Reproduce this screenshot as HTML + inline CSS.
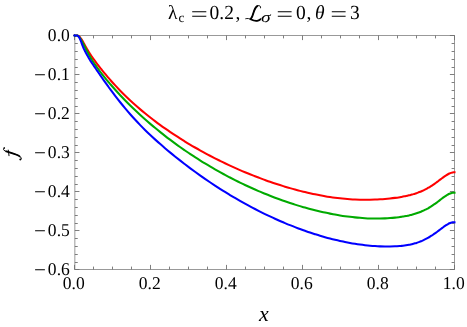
<!DOCTYPE html>
<html><head><meta charset="utf-8"><title>plot</title>
<style>html,body{margin:0;padding:0;background:#fff}svg{display:block;will-change:transform}.t{font-family:"Liberation Serif",serif;text-rendering:geometricPrecision}</style></head>
<body><svg width="467" height="327" viewBox="0 0 467 327">
<rect width="467" height="327" fill="#fff"/>
<path d="M74.35 35.5H455.0M74.35 269.5H455.0M454.5 35.5V269.5M74.85 35.5V269.5" fill="none" stroke="#999" stroke-width="1"/>
<path d="M74.50 269.5v-4.6M74.50 35.5v4.6M93.50 269.5v-2.9M93.50 35.5v2.9M112.50 269.5v-2.9M112.50 35.5v2.9M131.50 269.5v-2.9M131.50 35.5v2.9M150.50 269.5v-4.6M150.50 35.5v4.6M169.50 269.5v-2.9M169.50 35.5v2.9M188.50 269.5v-2.9M188.50 35.5v2.9M207.50 269.5v-2.9M207.50 35.5v2.9M226.50 269.5v-4.6M226.50 35.5v4.6M245.50 269.5v-2.9M245.50 35.5v2.9M264.50 269.5v-2.9M264.50 35.5v2.9M283.50 269.5v-2.9M283.50 35.5v2.9M302.50 269.5v-4.6M302.50 35.5v4.6M321.50 269.5v-2.9M321.50 35.5v2.9M340.50 269.5v-2.9M340.50 35.5v2.9M359.50 269.5v-2.9M359.50 35.5v2.9M378.50 269.5v-4.6M378.50 35.5v4.6M397.50 269.5v-2.9M397.50 35.5v2.9M416.50 269.5v-2.9M416.50 35.5v2.9M435.50 269.5v-2.9M435.50 35.5v2.9M454.50 269.5v-4.6M454.50 35.5v4.6M74.85 35.50h4.6M454.5 35.50h-4.6M74.85 43.50h2.9M454.5 43.50h-2.9M74.85 51.50h2.9M454.5 51.50h-2.9M74.85 59.50h2.9M454.5 59.50h-2.9M74.85 67.50h2.9M454.5 67.50h-2.9M74.85 74.50h4.6M454.5 74.50h-4.6M74.85 82.50h2.9M454.5 82.50h-2.9M74.85 90.50h2.9M454.5 90.50h-2.9M74.85 98.50h2.9M454.5 98.50h-2.9M74.85 106.50h2.9M454.5 106.50h-2.9M74.85 113.50h4.6M454.5 113.50h-4.6M74.85 121.50h2.9M454.5 121.50h-2.9M74.85 129.50h2.9M454.5 129.50h-2.9M74.85 137.50h2.9M454.5 137.50h-2.9M74.85 145.50h2.9M454.5 145.50h-2.9M74.85 152.50h4.6M454.5 152.50h-4.6M74.85 160.50h2.9M454.5 160.50h-2.9M74.85 168.50h2.9M454.5 168.50h-2.9M74.85 176.50h2.9M454.5 176.50h-2.9M74.85 184.50h2.9M454.5 184.50h-2.9M74.85 191.50h4.6M454.5 191.50h-4.6M74.85 199.50h2.9M454.5 199.50h-2.9M74.85 207.50h2.9M454.5 207.50h-2.9M74.85 215.50h2.9M454.5 215.50h-2.9M74.85 223.50h2.9M454.5 223.50h-2.9M74.85 230.50h4.6M454.5 230.50h-4.6M74.85 238.50h2.9M454.5 238.50h-2.9M74.85 246.50h2.9M454.5 246.50h-2.9M74.85 254.50h2.9M454.5 254.50h-2.9M74.85 262.50h2.9M454.5 262.50h-2.9M74.85 269.50h4.6M454.5 269.50h-4.6" stroke="#6f6f6f" stroke-width="0.9" fill="none"/>
<path d="M74.50 35.50C74.58 35.55 74.83 35.77 75.00 35.79C75.17 35.80 75.33 35.64 75.50 35.59C75.67 35.54 75.83 35.52 76.00 35.50C76.17 35.48 76.33 35.50 76.50 35.50C76.67 35.50 76.83 35.49 77.00 35.50C77.17 35.51 77.33 35.49 77.50 35.53C77.67 35.57 77.83 35.65 78.00 35.73C78.17 35.80 78.33 35.89 78.50 36.00C78.67 36.10 78.83 36.22 79.00 36.35C79.17 36.48 79.33 36.62 79.50 36.77C79.67 36.93 79.83 37.09 80.00 37.27C80.17 37.45 80.33 37.64 80.50 37.85C80.67 38.05 80.83 38.27 81.00 38.50C81.17 38.73 81.33 38.97 81.50 39.22C81.67 39.47 81.83 39.73 82.00 40.01C82.17 40.28 82.33 40.57 82.50 40.86C82.67 41.15 82.83 41.45 83.00 41.75C83.17 42.05 83.33 42.36 83.50 42.67C83.67 42.97 83.83 43.29 84.00 43.60C84.17 43.91 84.33 44.22 84.50 44.53C84.67 44.84 84.83 45.14 85.00 45.45C85.17 45.75 85.33 46.06 85.50 46.36C85.67 46.65 85.83 46.95 86.00 47.24C86.17 47.54 86.33 47.82 86.50 48.11C86.67 48.40 86.83 48.68 87.00 48.97C87.17 49.25 87.33 49.53 87.50 49.80C87.67 50.08 87.83 50.36 88.00 50.63C88.17 50.90 88.33 51.17 88.50 51.44C88.67 51.71 88.83 51.98 89.00 52.24C89.17 52.51 89.33 52.77 89.50 53.04C89.67 53.30 89.83 53.56 90.00 53.82C90.17 54.08 90.33 54.34 90.50 54.59C90.67 54.85 90.83 55.10 91.00 55.36C91.17 55.61 91.33 55.86 91.50 56.11C91.67 56.36 91.58 56.25 92.00 56.85C92.42 57.45 93.33 58.79 94.00 59.72C94.67 60.65 95.33 61.56 96.00 62.44C96.67 63.32 97.33 64.15 98.00 65.00C98.67 65.85 99.33 66.68 100.00 67.52C100.67 68.36 101.33 69.21 102.00 70.04C102.67 70.87 103.33 71.70 104.00 72.52C104.67 73.33 105.33 74.13 106.00 74.93C106.67 75.72 107.33 76.51 108.00 77.29C108.67 78.07 108.83 78.29 110.00 79.60C111.17 80.91 113.33 83.35 115.00 85.16C116.67 86.97 118.33 88.72 120.00 90.44C121.67 92.15 123.33 93.82 125.00 95.45C126.67 97.08 128.33 98.67 130.00 100.22C131.67 101.78 133.33 103.29 135.00 104.78C136.67 106.26 138.33 107.71 140.00 109.13C141.67 110.55 143.33 111.94 145.00 113.30C146.67 114.66 148.33 115.99 150.00 117.30C151.67 118.60 153.33 119.88 155.00 121.14C156.67 122.40 158.33 123.63 160.00 124.84C161.67 126.05 163.33 127.24 165.00 128.41C166.67 129.58 168.33 130.73 170.00 131.86C171.67 132.99 173.33 134.10 175.00 135.19C176.67 136.28 178.33 137.36 180.00 138.42C181.67 139.47 183.33 140.51 185.00 141.54C186.67 142.56 188.33 143.57 190.00 144.56C191.67 145.56 193.33 146.53 195.00 147.49C196.67 148.45 198.33 149.40 200.00 150.33C201.67 151.26 203.33 152.18 205.00 153.08C206.67 153.98 208.33 154.87 210.00 155.74C211.67 156.62 213.33 157.48 215.00 158.33C216.67 159.17 218.33 160.01 220.00 160.83C221.67 161.65 223.33 162.46 225.00 163.25C226.67 164.05 228.33 164.83 230.00 165.60C231.67 166.37 233.33 167.13 235.00 167.87C236.67 168.62 238.33 169.35 240.00 170.07C241.67 170.80 243.33 171.50 245.00 172.20C246.67 172.90 248.33 173.58 250.00 174.26C251.67 174.93 253.33 175.59 255.00 176.24C256.67 176.89 258.33 177.53 260.00 178.16C261.67 178.78 263.33 179.40 265.00 180.00C266.67 180.60 268.33 181.20 270.00 181.77C271.67 182.35 273.33 182.92 275.00 183.48C276.67 184.03 278.33 184.57 280.00 185.10C281.67 185.63 283.33 186.15 285.00 186.66C286.67 187.16 288.33 187.66 290.00 188.14C291.67 188.62 293.33 189.09 295.00 189.54C296.67 190.00 298.33 190.44 300.00 190.87C301.67 191.29 303.33 191.71 305.00 192.11C306.67 192.51 308.33 192.90 310.00 193.27C311.67 193.64 313.33 194.00 315.00 194.35C316.67 194.69 318.33 195.02 320.00 195.33C321.67 195.64 323.33 195.94 325.00 196.22C326.67 196.51 328.33 196.77 330.00 197.02C331.67 197.27 333.33 197.51 335.00 197.72C336.67 197.94 338.33 198.14 340.00 198.32C341.67 198.51 343.33 198.67 345.00 198.82C346.67 198.97 348.33 199.10 350.00 199.22C351.67 199.33 353.33 199.43 355.00 199.51C356.67 199.59 358.33 199.65 360.00 199.69C361.67 199.73 363.33 199.76 365.00 199.76C366.67 199.77 368.33 199.76 370.00 199.73C371.67 199.70 373.33 199.65 375.00 199.58C376.67 199.52 378.33 199.43 380.00 199.33C381.67 199.22 383.33 199.10 385.00 198.96C386.67 198.82 388.33 198.66 390.00 198.48C391.67 198.30 393.33 198.10 395.00 197.88C396.67 197.66 398.92 197.31 400.00 197.14C401.08 196.97 401.00 196.97 401.50 196.89C402.00 196.80 402.50 196.71 403.00 196.61C403.50 196.52 404.00 196.43 404.50 196.33C405.00 196.23 405.50 196.12 406.00 196.02C406.50 195.91 407.00 195.80 407.50 195.69C408.00 195.57 408.50 195.46 409.00 195.33C409.50 195.21 410.00 195.09 410.50 194.96C411.00 194.83 411.50 194.69 412.00 194.55C412.50 194.41 413.00 194.27 413.50 194.12C414.00 193.97 414.50 193.82 415.00 193.66C415.50 193.50 416.00 193.33 416.50 193.16C417.00 192.99 417.50 192.82 418.00 192.63C418.50 192.45 419.00 192.26 419.50 192.07C420.00 191.87 420.50 191.67 421.00 191.46C421.50 191.25 422.00 191.03 422.50 190.81C423.00 190.59 423.50 190.35 424.00 190.11C424.50 189.87 425.00 189.63 425.50 189.37C426.00 189.11 426.50 188.85 427.00 188.58C427.50 188.30 428.00 188.02 428.50 187.73C429.00 187.44 429.50 187.14 430.00 186.83C430.50 186.52 431.00 186.20 431.50 185.88C432.00 185.55 432.50 185.22 433.00 184.88C433.50 184.53 434.00 184.18 434.50 183.83C435.00 183.47 435.50 183.11 436.00 182.75C436.50 182.38 437.00 182.01 437.50 181.63C438.00 181.26 438.50 180.88 439.00 180.50C439.50 180.13 440.00 179.74 440.50 179.37C441.00 178.99 441.50 178.61 442.00 178.24C442.50 177.87 443.00 177.50 443.50 177.14C444.00 176.79 444.50 176.43 445.00 176.10C445.50 175.76 446.00 175.43 446.50 175.12C447.00 174.81 447.50 174.52 448.00 174.24C448.50 173.97 449.00 173.72 449.50 173.49C450.00 173.27 450.50 173.07 451.00 172.90C451.50 172.74 452.00 172.60 452.50 172.50C453.00 172.41 453.67 172.36 454.00 172.33C454.33 172.30 454.42 172.33 454.50 172.33" stroke="#ff0000" stroke-width="2.05" fill="none" stroke-linecap="square" stroke-linejoin="round"/>
<path d="M74.50 35.50C74.58 35.59 74.83 36.00 75.00 36.03C75.17 36.06 75.33 35.75 75.50 35.66C75.67 35.57 75.83 35.53 76.00 35.50C76.17 35.47 76.33 35.50 76.50 35.50C76.67 35.50 76.83 35.50 77.00 35.50C77.17 35.50 77.33 35.46 77.50 35.50C77.67 35.54 77.83 35.63 78.00 35.74C78.17 35.85 78.33 36.01 78.50 36.18C78.67 36.34 78.83 36.53 79.00 36.72C79.17 36.92 79.33 37.13 79.50 37.35C79.67 37.58 79.83 37.81 80.00 38.06C80.17 38.30 80.33 38.56 80.50 38.83C80.67 39.09 80.83 39.36 81.00 39.65C81.17 39.93 81.33 40.22 81.50 40.51C81.67 40.81 81.83 41.11 82.00 41.42C82.17 41.72 82.33 42.03 82.50 42.35C82.67 42.66 82.83 42.98 83.00 43.30C83.17 43.62 83.33 43.94 83.50 44.27C83.67 44.59 83.83 44.92 84.00 45.25C84.17 45.57 84.33 45.90 84.50 46.23C84.67 46.56 84.83 46.89 85.00 47.21C85.17 47.54 85.33 47.87 85.50 48.20C85.67 48.53 85.83 48.85 86.00 49.18C86.17 49.50 86.33 49.83 86.50 50.15C86.67 50.48 86.83 50.80 87.00 51.12C87.17 51.44 87.33 51.76 87.50 52.07C87.67 52.39 87.83 52.70 88.00 53.02C88.17 53.33 88.33 53.64 88.50 53.95C88.67 54.25 88.83 54.56 89.00 54.86C89.17 55.16 89.33 55.46 89.50 55.76C89.67 56.06 89.83 56.35 90.00 56.65C90.17 56.94 90.33 57.23 90.50 57.52C90.67 57.80 90.83 58.09 91.00 58.37C91.17 58.65 91.33 58.93 91.50 59.21C91.67 59.48 91.58 59.39 92.00 60.03C92.42 60.67 93.33 62.05 94.00 63.03C94.67 64.01 95.33 64.96 96.00 65.92C96.67 66.87 97.33 67.84 98.00 68.77C98.67 69.70 99.33 70.62 100.00 71.50C100.67 72.39 101.33 73.25 102.00 74.10C102.67 74.95 103.33 75.79 104.00 76.62C104.67 77.45 105.33 78.27 106.00 79.08C106.67 79.89 107.33 80.69 108.00 81.48C108.67 82.27 108.83 82.49 110.00 83.83C111.17 85.17 113.33 87.66 115.00 89.51C116.67 91.37 118.33 93.18 120.00 94.97C121.67 96.75 123.33 98.49 125.00 100.20C126.67 101.91 128.33 103.59 130.00 105.24C131.67 106.88 133.33 108.50 135.00 110.08C136.67 111.67 138.33 113.22 140.00 114.75C141.67 116.28 143.33 117.78 145.00 119.26C146.67 120.74 148.33 122.19 150.00 123.61C151.67 125.04 153.33 126.44 155.00 127.82C156.67 129.20 158.33 130.56 160.00 131.90C161.67 133.23 163.33 134.55 165.00 135.84C166.67 137.14 168.33 138.41 170.00 139.67C171.67 140.92 173.33 142.16 175.00 143.38C176.67 144.60 178.33 145.80 180.00 146.98C181.67 148.16 183.33 149.32 185.00 150.47C186.67 151.62 188.33 152.74 190.00 153.86C191.67 154.97 193.33 156.06 195.00 157.14C196.67 158.22 198.33 159.29 200.00 160.33C201.67 161.38 203.33 162.41 205.00 163.42C206.67 164.44 208.33 165.44 210.00 166.42C211.67 167.41 213.33 168.38 215.00 169.33C216.67 170.29 218.33 171.22 220.00 172.15C221.67 173.07 223.33 173.98 225.00 174.88C226.67 175.78 228.33 176.66 230.00 177.53C231.67 178.39 233.33 179.25 235.00 180.09C236.67 180.93 238.33 181.75 240.00 182.57C241.67 183.38 243.33 184.18 245.00 184.96C246.67 185.75 248.33 186.52 250.00 187.28C251.67 188.04 253.33 188.79 255.00 189.52C256.67 190.25 258.33 190.97 260.00 191.68C261.67 192.38 263.33 193.08 265.00 193.76C266.67 194.44 268.33 195.11 270.00 195.76C271.67 196.42 273.33 197.06 275.00 197.69C276.67 198.32 278.33 198.93 280.00 199.53C281.67 200.14 283.33 200.73 285.00 201.30C286.67 201.88 288.33 202.44 290.00 202.99C291.67 203.54 293.33 204.08 295.00 204.61C296.67 205.13 298.33 205.64 300.00 206.14C301.67 206.64 303.33 207.12 305.00 207.59C306.67 208.06 308.33 208.52 310.00 208.97C311.67 209.41 313.33 209.84 315.00 210.26C316.67 210.67 318.33 211.07 320.00 211.46C321.67 211.85 323.33 212.22 325.00 212.58C326.67 212.94 328.33 213.29 330.00 213.62C331.67 213.95 333.33 214.26 335.00 214.56C336.67 214.86 338.33 215.15 340.00 215.41C341.67 215.68 343.33 215.94 345.00 216.17C346.67 216.41 348.33 216.63 350.00 216.83C351.67 217.04 353.33 217.22 355.00 217.39C356.67 217.56 358.33 217.71 360.00 217.84C361.67 217.98 363.33 218.09 365.00 218.19C366.67 218.28 368.33 218.36 370.00 218.41C371.67 218.47 373.33 218.51 375.00 218.52C376.67 218.54 378.33 218.53 380.00 218.51C381.67 218.48 383.33 218.43 385.00 218.36C386.67 218.29 388.33 218.19 390.00 218.07C391.67 217.95 393.33 217.81 395.00 217.64C396.67 217.47 398.92 217.17 400.00 217.04C401.08 216.90 401.00 216.89 401.50 216.82C402.00 216.74 402.50 216.66 403.00 216.58C403.50 216.50 404.00 216.41 404.50 216.32C405.00 216.23 405.50 216.14 406.00 216.04C406.50 215.94 407.00 215.84 407.50 215.73C408.00 215.63 408.50 215.52 409.00 215.40C409.50 215.29 410.00 215.17 410.50 215.05C411.00 214.93 411.50 214.80 412.00 214.67C412.50 214.53 413.00 214.40 413.50 214.25C414.00 214.11 414.50 213.96 415.00 213.81C415.50 213.66 416.00 213.50 416.50 213.33C417.00 213.17 417.50 213.00 418.00 212.82C418.50 212.64 419.00 212.46 419.50 212.27C420.00 212.08 420.50 211.89 421.00 211.68C421.50 211.48 422.00 211.27 422.50 211.05C423.00 210.83 423.50 210.61 424.00 210.37C424.50 210.14 425.00 209.90 425.50 209.64C426.00 209.39 426.50 209.13 427.00 208.87C427.50 208.60 428.00 208.32 428.50 208.03C429.00 207.74 429.50 207.45 430.00 207.14C430.50 206.83 431.00 206.52 431.50 206.20C432.00 205.87 432.50 205.54 433.00 205.20C433.50 204.86 434.00 204.51 434.50 204.16C435.00 203.80 435.50 203.44 436.00 203.07C436.50 202.71 437.00 202.33 437.50 201.96C438.00 201.58 438.50 201.20 439.00 200.82C439.50 200.44 440.00 200.06 440.50 199.68C441.00 199.30 441.50 198.91 442.00 198.54C442.50 198.17 443.00 197.79 443.50 197.43C444.00 197.07 444.50 196.72 445.00 196.38C445.50 196.04 446.00 195.70 446.50 195.39C447.00 195.08 447.50 194.78 448.00 194.51C448.50 194.24 449.00 193.99 449.50 193.76C450.00 193.54 450.50 193.34 451.00 193.18C451.50 193.02 452.00 192.89 452.50 192.80C453.00 192.71 453.67 192.68 454.00 192.66C454.33 192.64 454.42 192.67 454.50 192.67" stroke="#00aa00" stroke-width="2.05" fill="none" stroke-linecap="square" stroke-linejoin="round"/>
<path d="M74.50 35.50C74.58 35.54 74.83 35.74 75.00 35.75C75.17 35.75 75.33 35.57 75.50 35.53C75.67 35.49 75.83 35.50 76.00 35.50C76.17 35.50 76.33 35.50 76.50 35.50C76.67 35.50 76.83 35.47 77.00 35.51C77.17 35.55 77.33 35.65 77.50 35.74C77.67 35.84 77.83 35.95 78.00 36.08C78.17 36.22 78.33 36.38 78.50 36.56C78.67 36.75 78.83 36.96 79.00 37.19C79.17 37.43 79.33 37.70 79.50 38.00C79.67 38.30 79.83 38.62 80.00 38.98C80.17 39.34 80.33 39.73 80.50 40.14C80.67 40.56 80.83 41.01 81.00 41.45C81.17 41.90 81.33 42.37 81.50 42.83C81.67 43.30 81.83 43.77 82.00 44.22C82.17 44.68 82.33 45.13 82.50 45.56C82.67 45.99 82.83 46.41 83.00 46.82C83.17 47.22 83.33 47.61 83.50 47.99C83.67 48.37 83.83 48.74 84.00 49.10C84.17 49.46 84.33 49.81 84.50 50.15C84.67 50.49 84.83 50.83 85.00 51.16C85.17 51.48 85.33 51.81 85.50 52.12C85.67 52.44 85.83 52.75 86.00 53.06C86.17 53.37 86.33 53.67 86.50 53.98C86.67 54.28 86.83 54.58 87.00 54.88C87.17 55.17 87.33 55.47 87.50 55.76C87.67 56.06 87.83 56.35 88.00 56.64C88.17 56.93 88.33 57.22 88.50 57.51C88.67 57.80 88.83 58.09 89.00 58.38C89.17 58.66 89.33 58.95 89.50 59.23C89.67 59.52 89.83 59.80 90.00 60.08C90.17 60.36 90.33 60.64 90.50 60.91C90.67 61.17 90.83 61.44 91.00 61.69C91.17 61.95 91.33 62.20 91.50 62.45C91.67 62.70 91.58 62.57 92.00 63.18C92.42 63.80 93.33 65.15 94.00 66.12C94.67 67.08 95.33 68.00 96.00 68.97C96.67 69.93 97.33 70.94 98.00 71.91C98.67 72.89 99.33 73.86 100.00 74.83C100.67 75.80 101.33 76.77 102.00 77.73C102.67 78.69 103.33 79.64 104.00 80.58C104.67 81.53 105.33 82.47 106.00 83.40C106.67 84.33 107.33 85.26 108.00 86.18C108.67 87.10 108.83 87.36 110.00 88.93C111.17 90.49 113.33 93.42 115.00 95.60C116.67 97.78 118.33 99.91 120.00 102.00C121.67 104.09 123.33 106.13 125.00 108.12C126.67 110.12 128.33 112.07 130.00 113.97C131.67 115.87 133.33 117.72 135.00 119.54C136.67 121.35 138.33 123.12 140.00 124.84C141.67 126.57 143.33 128.25 145.00 129.90C146.67 131.55 148.33 133.16 150.00 134.74C151.67 136.32 153.33 137.86 155.00 139.37C156.67 140.89 158.33 142.38 160.00 143.84C161.67 145.31 163.33 146.74 165.00 148.16C166.67 149.58 168.33 150.98 170.00 152.36C171.67 153.74 173.33 155.10 175.00 156.44C176.67 157.78 178.33 159.11 180.00 160.42C181.67 161.73 183.33 163.02 185.00 164.30C186.67 165.57 188.33 166.83 190.00 168.08C191.67 169.32 193.33 170.55 195.00 171.76C196.67 172.97 198.33 174.17 200.00 175.35C201.67 176.53 203.33 177.70 205.00 178.85C206.67 180.00 208.33 181.14 210.00 182.26C211.67 183.38 213.33 184.49 215.00 185.58C216.67 186.67 218.33 187.75 220.00 188.81C221.67 189.87 223.33 190.92 225.00 191.95C226.67 192.98 228.33 194.00 230.00 195.01C231.67 196.01 233.33 197.00 235.00 197.98C236.67 198.95 238.33 199.92 240.00 200.87C241.67 201.81 243.33 202.75 245.00 203.67C246.67 204.59 248.33 205.50 250.00 206.39C251.67 207.28 253.33 208.16 255.00 209.02C256.67 209.89 258.33 210.74 260.00 211.58C261.67 212.42 263.33 213.24 265.00 214.05C266.67 214.86 268.33 215.65 270.00 216.44C271.67 217.22 273.33 217.99 275.00 218.74C276.67 219.50 278.33 220.24 280.00 220.97C281.67 221.69 283.33 222.41 285.00 223.10C286.67 223.80 288.33 224.49 290.00 225.16C291.67 225.83 293.33 226.49 295.00 227.13C296.67 227.77 298.33 228.40 300.00 229.02C301.67 229.63 303.33 230.23 305.00 230.82C306.67 231.40 308.33 231.98 310.00 232.53C311.67 233.09 313.33 233.63 315.00 234.16C316.67 234.68 318.33 235.20 320.00 235.69C321.67 236.19 323.33 236.67 325.00 237.14C326.67 237.61 328.33 238.06 330.00 238.49C331.67 238.93 333.33 239.35 335.00 239.75C336.67 240.16 338.33 240.55 340.00 240.92C341.67 241.29 343.33 241.64 345.00 241.98C346.67 242.32 348.33 242.64 350.00 242.94C351.67 243.25 353.33 243.53 355.00 243.80C356.67 244.07 358.33 244.32 360.00 244.55C361.67 244.78 363.33 244.99 365.00 245.18C366.67 245.37 368.33 245.55 370.00 245.70C371.67 245.85 373.33 245.98 375.00 246.09C376.67 246.20 378.33 246.29 380.00 246.36C381.67 246.43 383.33 246.48 385.00 246.50C386.67 246.52 388.33 246.52 390.00 246.50C391.67 246.47 393.33 246.43 395.00 246.35C396.67 246.26 398.92 246.09 400.00 246.01C401.08 245.93 401.00 245.92 401.50 245.87C402.00 245.82 402.50 245.76 403.00 245.70C403.50 245.64 404.00 245.58 404.50 245.51C405.00 245.45 405.50 245.38 406.00 245.30C406.50 245.22 407.00 245.14 407.50 245.06C408.00 244.97 408.50 244.88 409.00 244.79C409.50 244.69 410.00 244.59 410.50 244.48C411.00 244.38 411.50 244.26 412.00 244.15C412.50 244.03 413.00 243.90 413.50 243.77C414.00 243.64 414.50 243.50 415.00 243.36C415.50 243.21 416.00 243.06 416.50 242.90C417.00 242.74 417.50 242.58 418.00 242.40C418.50 242.23 419.00 242.05 419.50 241.86C420.00 241.67 420.50 241.47 421.00 241.26C421.50 241.06 422.00 240.84 422.50 240.62C423.00 240.40 423.50 240.16 424.00 239.92C424.50 239.68 425.00 239.44 425.50 239.18C426.00 238.92 426.50 238.66 427.00 238.39C427.50 238.11 428.00 237.83 428.50 237.54C429.00 237.25 429.50 236.96 430.00 236.65C430.50 236.35 431.00 236.03 431.50 235.71C432.00 235.39 432.50 235.07 433.00 234.73C433.50 234.40 434.00 234.06 434.50 233.71C435.00 233.36 435.50 233.01 436.00 232.65C436.50 232.29 437.00 231.92 437.50 231.55C438.00 231.18 438.50 230.81 439.00 230.43C439.50 230.05 440.00 229.67 440.50 229.29C441.00 228.91 441.50 228.53 442.00 228.15C442.50 227.77 443.00 227.39 443.50 227.02C444.00 226.65 444.50 226.29 445.00 225.94C445.50 225.59 446.00 225.25 446.50 224.93C447.00 224.61 447.50 224.30 448.00 224.02C448.50 223.74 449.00 223.47 449.50 223.25C450.00 223.02 450.50 222.82 451.00 222.66C451.50 222.51 452.00 222.38 452.50 222.31C453.00 222.24 453.67 222.24 454.00 222.24C454.33 222.23 454.42 222.28 454.50 222.29" stroke="#0000ff" stroke-width="2.05" fill="none" stroke-linecap="square" stroke-linejoin="round"/>
<g fill="#000"><text class="t" transform="translate(73.70,289.10) scale(0.975,1.0)" font-size="18" text-anchor="middle" font-style="normal">0.0</text><text class="t" transform="translate(149.70,289.10) scale(0.975,1.0)" font-size="18" text-anchor="middle" font-style="normal">0.2</text><text class="t" transform="translate(225.70,289.10) scale(0.975,1.0)" font-size="18" text-anchor="middle" font-style="normal">0.4</text><text class="t" transform="translate(301.70,289.10) scale(0.975,1.0)" font-size="18" text-anchor="middle" font-style="normal">0.6</text><text class="t" transform="translate(377.70,289.10) scale(0.975,1.0)" font-size="18" text-anchor="middle" font-style="normal">0.8</text><text class="t" transform="translate(453.70,289.10) scale(0.975,1.0)" font-size="18" text-anchor="middle" font-style="normal">1.0</text><text class="t" transform="translate(69.80,40.80) scale(0.975,1.0)" font-size="18" text-anchor="end" font-style="normal">0.0</text><text class="t" transform="translate(69.80,79.80) scale(0.975,1.0)" font-size="18" text-anchor="end" font-style="normal">0.1</text><text class="t" transform="translate(69.80,118.80) scale(0.975,1.0)" font-size="18" text-anchor="end" font-style="normal">0.2</text><text class="t" transform="translate(69.80,157.80) scale(0.975,1.0)" font-size="18" text-anchor="end" font-style="normal">0.3</text><text class="t" transform="translate(69.80,196.80) scale(0.975,1.0)" font-size="18" text-anchor="end" font-style="normal">0.4</text><text class="t" transform="translate(69.80,235.80) scale(0.975,1.0)" font-size="18" text-anchor="end" font-style="normal">0.5</text><text class="t" transform="translate(69.80,274.80) scale(0.975,1.0)" font-size="18" text-anchor="end" font-style="normal">0.6</text></g>
<path d="M35.1 74.80h9.8M35.1 113.80h9.8M35.1 152.80h9.8M35.1 191.80h9.8M35.1 230.80h9.8M35.1 269.80h9.8" stroke="#000" stroke-width="1.05" fill="none"/>
<text class="t" transform="translate(263.90,321.00) scale(1.0,1.0)" font-size="22" text-anchor="middle" font-style="italic">x</text>
<g fill="none" stroke="#000" stroke-linecap="round"><path d="M4.3 147.9C3.0 148.5 3.1 150.2 5.0 150.9C8.0 152.1 13.0 153.3 17.0 154.9C19.8 156.0 21.7 157.6 21.3 159.1C21.1 159.9 20.3 160.0 19.9 159.4" stroke-width="0.95"/><path d="M6.2 151.4C9.0 152.3 13.0 153.4 16.6 154.8C17.8 155.3 18.8 155.8 19.6 156.4" stroke-width="1.75"/><path d="M8.3 150.1L9.0 155.7" stroke-width="0.95"/></g><circle cx="4.2" cy="148.0" r="0.85"/><circle cx="20.3" cy="159.4" r="0.85"/>
<g fill="#000"><text class="t" transform="translate(168.00,19.40) scale(0.975,1.0)" font-size="20" text-anchor="start" font-style="normal">λ</text><text class="t" transform="translate(178.60,22.30) scale(0.975,1.0)" font-size="13.5" text-anchor="start" font-style="normal">c</text><text class="t" transform="translate(209.50,19.40) scale(0.975,1.0)" font-size="20" text-anchor="start" font-style="normal">0.2</text><text class="t" transform="translate(235.50,19.40) scale(0.975,1.0)" font-size="20" text-anchor="start" font-style="normal">,</text><text class="t" transform="translate(261.00,22.40) scale(1.3,1.0)" font-size="15" text-anchor="start" font-style="italic">σ</text><text class="t" transform="translate(296.00,19.40) scale(0.975,1.0)" font-size="20" text-anchor="start" font-style="normal">0</text><text class="t" transform="translate(306.50,19.40) scale(0.975,1.0)" font-size="20" text-anchor="start" font-style="normal">,</text><text class="t" transform="translate(314.90,19.40) scale(0.975,1.0)" font-size="20" text-anchor="start" font-style="italic">θ</text><text class="t" transform="translate(350.00,19.40) scale(0.975,1.0)" font-size="20" text-anchor="start" font-style="normal">3</text></g>
<path d="M192.2 11.75H206.3M192.2 16.3H206.3M277.8 11.75H291.6M277.8 16.3H291.6M331.8 11.75H345.6M331.8 16.3H345.6" stroke="#000" stroke-width="1.1" fill="none"/>
<g fill="none" stroke="#000" stroke-linecap="round" stroke-linejoin="round"><path d="M260.6 7.9C261.2 6.3 259.6 5.3 257.8 5.7C255.5 6.5 254.3 10 253.4 13C252.6 15.8 251.8 18 250.3 19.3" stroke-width="0.9"/><path d="M245.7 18.7C247.5 18.2 249.5 18.6 251 19.3C253 20.3 255 20.9 257 20.8C259.2 20.7 260.6 19.6 261.0 18.3" stroke-width="0.9"/><path d="M257.2 6.1C255.4 7.2 254.3 10 253.4 13C252.7 15.6 252.0 17.6 250.8 18.9" stroke-width="1.9"/><path d="M250.5 19.2C252.5 20.2 254.5 20.9 257 20.8C258.3 20.7 259.4 20.2 260.2 19.5" stroke-width="1.7"/></g>
</svg></body></html>
